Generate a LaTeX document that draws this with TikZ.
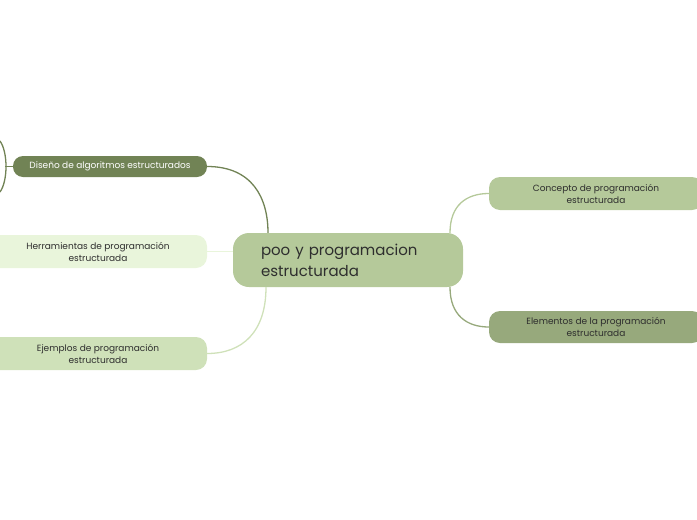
\documentclass[tikz,border=0pt]{standalone}
\usepackage{fontspec}
\setmainfont{Poppins}
\definecolor{verdeA}{HTML}{E9F5DB}
\definecolor{verdeB}{HTML}{CFE1B9}
\definecolor{verdeC}{HTML}{B5C99A}
\definecolor{verdeD}{HTML}{97A97C}
\definecolor{verdeE}{HTML}{718355}
\definecolor{tinta}{HTML}{2E2E2E}
\begin{document}
\begin{tikzpicture}[x=1pt, y=-1pt,
    rama/.style={rounded corners=11pt, inner sep=0pt, align=center,
      text=tinta, font=\fontsize{9}{12}\selectfont},
    enlace/.style={line width=1.3pt}]
  \useasboundingbox (0,0) rectangle (697,520);
  \clip (0,0) rectangle (697,520);
  % nodo central
  \node[rounded corners=16pt, fill=verdeC, minimum width=230pt, minimum height=54pt,
        inner xsep=28pt, text width=174pt, align=left, text=tinta,
        font=\fontsize{15}{21}\selectfont] (poo) at (348,260)
        {poo y programacion\\estructurada};
  % ramas izquierda
  \node[rama, fill=verdeE, text=white, minimum width=194pt, minimum height=21pt,
        rounded corners=10pt] (diseno) at (110,166.5) {Diseño de algoritmos estructurados};
  \node[rama, fill=verdeA, minimum width=218pt, minimum height=33pt] (herram) at (98,251.5)
        {Herramientas de programación\\estructurada};
  \node[rama, fill=verdeB, minimum width=218pt, minimum height=33pt] (ejemplos) at (98,353.5)
        {Ejemplos de programación\\estructurada};
  % ramas derecha
  \node[rama, fill=verdeC, minimum width=214pt, minimum height=33pt] (concepto) at (596,193.5)
        {Concepto de programación\\estructurada};
  \node[rama, fill=verdeD, minimum width=214pt, minimum height=32pt] (elementos) at (596,327)
        {Elementos de la programación\\estructurada};
  % enlaces
  \draw[enlace, verdeE] (diseno.east) .. controls +(45,0) and +(0,-35) .. ([xshift=-80pt]poo.north);
  \draw[enlace, verdeA] (herram.east) -- (herram.east -| poo.west);
  \draw[enlace, verdeB] ([xshift=-82pt]poo.south) .. controls +(0,45) and +(35,0) .. (ejemplos.east);
  \draw[enlace, verdeC] ([xshift=102pt]poo.north) .. controls +(0,-28) and +(-22,0) .. (concepto.west);
  \draw[enlace, verdeD] ([xshift=102pt]poo.south) .. controls +(0,28) and +(-22,0) .. (elementos.west);
  % hijos de diseno, fuera del cuadro
  \coordinate (arriba) at (0,141);
  \coordinate (abajo) at (0,192);
  \coordinate (junta) at (5,166.5);
  \draw[enlace, verdeE] (arriba) .. controls (8,152) and (8,181) .. (abajo);
  \draw[enlace, verdeE] (junta) -- (diseno.west);
\end{tikzpicture}
\end{document}
